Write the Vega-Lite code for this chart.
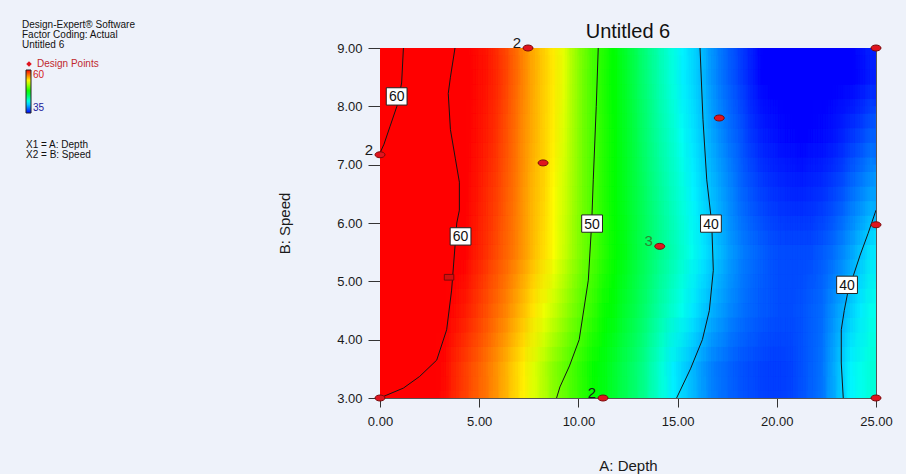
{
  "$schema": "https://vega.github.io/schema/vega-lite/v6.json",
  "width": 496,
  "height": 350,
  "autosize": "none",
  "padding": {"left": 380, "top": 48, "right": 30, "bottom": 76},
  "background": "#EEF2FA",
  "config": {
    "font": "Liberation Sans",
    "view": {"stroke": "#555555", "strokeWidth": 1}
  },
  "title": {"text": "Untitled 6", "fontSize": 20, "fontWeight": "normal", "color": "#111111", "baseline": "alphabetic", "offset": 7, "dy": 45, "anchor": "middle"},
  "datasets": {
    "grid": [
      {"d":0,"d1":0.5,"s":3,"s1":4,"r":60.9},{"d":0.5,"d1":1,"s":3,"s1":4,"r":60.75},{"d":1,"d1":1.5,"s":3,"s1":4,"r":60.6},{"d":1.5,"d1":2,"s":3,"s1":4,"r":60.4},{"d":2,"d1":2.5,"s":3,"s1":4,"r":60.25},
      {"d":2.5,"d1":3,"s":3,"s1":4,"r":60.1},{"d":3,"d1":3.5,"s":3,"s1":4,"r":59.7},{"d":3.5,"d1":4,"s":3,"s1":4,"r":59.0},{"d":4,"d1":4.5,"s":3,"s1":4,"r":58.4},{"d":4.5,"d1":5,"s":3,"s1":4,"r":57.8},
      {"d":5,"d1":5.5,"s":3,"s1":4,"r":57.2},{"d":5.5,"d1":6,"s":3,"s1":4,"r":56.5},{"d":6,"d1":6.5,"s":3,"s1":4,"r":55.7},{"d":6.5,"d1":7,"s":3,"s1":4,"r":54.8},{"d":7,"d1":7.5,"s":3,"s1":4,"r":54.0},
      {"d":7.5,"d1":8,"s":3,"s1":4,"r":53.0},{"d":8,"d1":8.5,"s":3,"s1":4,"r":52.0},{"d":8.5,"d1":9,"s":3,"s1":4,"r":50.9},{"d":9,"d1":9.5,"s":3,"s1":4,"r":50.1},{"d":9.5,"d1":10,"s":3,"s1":4,"r":49.3},
      {"d":10,"d1":10.5,"s":3,"s1":4,"r":48.5},{"d":10.5,"d1":11,"s":3,"s1":4,"r":47.7},{"d":11,"d1":11.5,"s":3,"s1":4,"r":47.0},{"d":11.5,"d1":12,"s":3,"s1":4,"r":46.3},{"d":12,"d1":12.5,"s":3,"s1":4,"r":45.6},
      {"d":12.5,"d1":13,"s":3,"s1":4,"r":44.9},{"d":13,"d1":13.5,"s":3,"s1":4,"r":44.1},{"d":13.5,"d1":14,"s":3,"s1":4,"r":43.0},{"d":14,"d1":14.5,"s":3,"s1":4,"r":42.0},{"d":14.5,"d1":15,"s":3,"s1":4,"r":41.0},
      {"d":15,"d1":15.5,"s":3,"s1":4,"r":40.3},{"d":15.5,"d1":16,"s":3,"s1":4,"r":39.6},{"d":16,"d1":16.5,"s":3,"s1":4,"r":38.9},{"d":16.5,"d1":17,"s":3,"s1":4,"r":38.2},{"d":17,"d1":17.5,"s":3,"s1":4,"r":37.8},
      {"d":17.5,"d1":18,"s":3,"s1":4,"r":37.4},{"d":18,"d1":18.5,"s":3,"s1":4,"r":37.1},{"d":18.5,"d1":19,"s":3,"s1":4,"r":36.9},{"d":19,"d1":19.5,"s":3,"s1":4,"r":36.7},{"d":19.5,"d1":20,"s":3,"s1":4,"r":36.6},
      {"d":20,"d1":20.5,"s":3,"s1":4,"r":36.6},{"d":20.5,"d1":21,"s":3,"s1":4,"r":36.75},{"d":21,"d1":21.5,"s":3,"s1":4,"r":37.05},{"d":21.5,"d1":22,"s":3,"s1":4,"r":37.5},{"d":22,"d1":22.5,"s":3,"s1":4,"r":37.9},
      {"d":22.5,"d1":23,"s":3,"s1":4,"r":39.0},{"d":23,"d1":23.5,"s":3,"s1":4,"r":40.1},{"d":23.5,"d1":24,"s":3,"s1":4,"r":41.1},{"d":24,"d1":24.5,"s":3,"s1":4,"r":41.6},{"d":24.5,"d1":25,"s":3,"s1":4,"r":42.1},

      {"d":0,"d1":0.5,"s":4,"s1":5,"r":60.9},{"d":0.5,"d1":1,"s":4,"s1":5,"r":60.8},{"d":1,"d1":1.5,"s":4,"s1":5,"r":60.7},{"d":1.5,"d1":2,"s":4,"s1":5,"r":60.5},{"d":2,"d1":2.5,"s":4,"s1":5,"r":60.4},
      {"d":2.5,"d1":3,"s":4,"s1":5,"r":60.25},{"d":3,"d1":3.5,"s":4,"s1":5,"r":60.0},{"d":3.5,"d1":4,"s":4,"s1":5,"r":59.65},{"d":4,"d1":4.5,"s":4,"s1":5,"r":59.3},{"d":4.5,"d1":5,"s":4,"s1":5,"r":58.7},
      {"d":5,"d1":5.5,"s":4,"s1":5,"r":58.1},{"d":5.5,"d1":6,"s":4,"s1":5,"r":57.45},{"d":6,"d1":6.5,"s":4,"s1":5,"r":56.8},{"d":6.5,"d1":7,"s":4,"s1":5,"r":56.0},{"d":7,"d1":7.5,"s":4,"s1":5,"r":55.2},
      {"d":7.5,"d1":8,"s":4,"s1":5,"r":54.3},{"d":8,"d1":8.5,"s":4,"s1":5,"r":53.5},{"d":8.5,"d1":9,"s":4,"s1":5,"r":52.5},{"d":9,"d1":9.5,"s":4,"s1":5,"r":51.5},{"d":9.5,"d1":10,"s":4,"s1":5,"r":50.5},
      {"d":10,"d1":10.5,"s":4,"s1":5,"r":49.6},{"d":10.5,"d1":11,"s":4,"s1":5,"r":48.8},{"d":11,"d1":11.5,"s":4,"s1":5,"r":47.9},{"d":11.5,"d1":12,"s":4,"s1":5,"r":47.2},{"d":12,"d1":12.5,"s":4,"s1":5,"r":46.4},
      {"d":12.5,"d1":13,"s":4,"s1":5,"r":45.7},{"d":13,"d1":13.5,"s":4,"s1":5,"r":44.9},{"d":13.5,"d1":14,"s":4,"s1":5,"r":44.0},{"d":14,"d1":14.5,"s":4,"s1":5,"r":43.1},{"d":14.5,"d1":15,"s":4,"s1":5,"r":42.3},
      {"d":15,"d1":15.5,"s":4,"s1":5,"r":41.5},{"d":15.5,"d1":16,"s":4,"s1":5,"r":40.8},{"d":16,"d1":16.5,"s":4,"s1":5,"r":40.1},{"d":16.5,"d1":17,"s":4,"s1":5,"r":39.4},{"d":17,"d1":17.5,"s":4,"s1":5,"r":38.9},
      {"d":17.5,"d1":18,"s":4,"s1":5,"r":38.3},{"d":18,"d1":18.5,"s":4,"s1":5,"r":37.9},{"d":18.5,"d1":19,"s":4,"s1":5,"r":37.55},{"d":19,"d1":19.5,"s":4,"s1":5,"r":37.3},{"d":19.5,"d1":20,"s":4,"s1":5,"r":37.1},
      {"d":20,"d1":20.5,"s":4,"s1":5,"r":37.0},{"d":20.5,"d1":21,"s":4,"s1":5,"r":37.0},{"d":21,"d1":21.5,"s":4,"s1":5,"r":37.1},{"d":21.5,"d1":22,"s":4,"s1":5,"r":37.4},{"d":22,"d1":22.5,"s":4,"s1":5,"r":37.7},
      {"d":22.5,"d1":23,"s":4,"s1":5,"r":38.5},{"d":23,"d1":23.5,"s":4,"s1":5,"r":39.3},{"d":23.5,"d1":24,"s":4,"s1":5,"r":40.2},{"d":24,"d1":24.5,"s":4,"s1":5,"r":40.9},{"d":24.5,"d1":25,"s":4,"s1":5,"r":41.6},

      {"d":0,"d1":0.5,"s":5,"s1":6,"r":60.8},{"d":0.5,"d1":1,"s":5,"s1":6,"r":60.7},{"d":1,"d1":1.5,"s":5,"s1":6,"r":60.6},{"d":1.5,"d1":2,"s":5,"s1":6,"r":60.6},{"d":2,"d1":2.5,"s":5,"s1":6,"r":60.5},
      {"d":2.5,"d1":3,"s":5,"s1":6,"r":60.3},{"d":3,"d1":3.5,"s":5,"s1":6,"r":60.2},{"d":3.5,"d1":4,"s":5,"s1":6,"r":60.1},{"d":4,"d1":4.5,"s":5,"s1":6,"r":59.9},{"d":4.5,"d1":5,"s":5,"s1":6,"r":59.35},
      {"d":5,"d1":5.5,"s":5,"s1":6,"r":58.8},{"d":5.5,"d1":6,"s":5,"s1":6,"r":58.2},{"d":6,"d1":6.5,"s":5,"s1":6,"r":57.6},{"d":6.5,"d1":7,"s":5,"s1":6,"r":56.9},{"d":7,"d1":7.5,"s":5,"s1":6,"r":56.1},
      {"d":7.5,"d1":8,"s":5,"s1":6,"r":55.25},{"d":8,"d1":8.5,"s":5,"s1":6,"r":54.5},{"d":8.5,"d1":9,"s":5,"s1":6,"r":53.7},{"d":9,"d1":9.5,"s":5,"s1":6,"r":52.6},{"d":9.5,"d1":10,"s":5,"s1":6,"r":51.4},
      {"d":10,"d1":10.5,"s":5,"s1":6,"r":50.3},{"d":10.5,"d1":11,"s":5,"s1":6,"r":49.5},{"d":11,"d1":11.5,"s":5,"s1":6,"r":48.6},{"d":11.5,"d1":12,"s":5,"s1":6,"r":47.8},{"d":12,"d1":12.5,"s":5,"s1":6,"r":47.0},
      {"d":12.5,"d1":13,"s":5,"s1":6,"r":46.15},{"d":13,"d1":13.5,"s":5,"s1":6,"r":45.4},{"d":13.5,"d1":14,"s":5,"s1":6,"r":44.6},{"d":14,"d1":14.5,"s":5,"s1":6,"r":43.8},{"d":14.5,"d1":15,"s":5,"s1":6,"r":43.1},
      {"d":15,"d1":15.5,"s":5,"s1":6,"r":42.3},{"d":15.5,"d1":16,"s":5,"s1":6,"r":41.5},{"d":16,"d1":16.5,"s":5,"s1":6,"r":40.8},{"d":16.5,"d1":17,"s":5,"s1":6,"r":40.1},{"d":17,"d1":17.5,"s":5,"s1":6,"r":39.5},
      {"d":17.5,"d1":18,"s":5,"s1":6,"r":38.8},{"d":18,"d1":18.5,"s":5,"s1":6,"r":38.2},{"d":18.5,"d1":19,"s":5,"s1":6,"r":37.8},{"d":19,"d1":19.5,"s":5,"s1":6,"r":37.4},{"d":19.5,"d1":20,"s":5,"s1":6,"r":37.1},
      {"d":20,"d1":20.5,"s":5,"s1":6,"r":37.0},{"d":20.5,"d1":21,"s":5,"s1":6,"r":36.9},{"d":21,"d1":21.5,"s":5,"s1":6,"r":36.9},{"d":21.5,"d1":22,"s":5,"s1":6,"r":37.0},{"d":22,"d1":22.5,"s":5,"s1":6,"r":37.3},
      {"d":22.5,"d1":23,"s":5,"s1":6,"r":37.7},{"d":23,"d1":23.5,"s":5,"s1":6,"r":38.3},{"d":23.5,"d1":24,"s":5,"s1":6,"r":39.1},{"d":24,"d1":24.5,"s":5,"s1":6,"r":39.9},{"d":24.5,"d1":25,"s":5,"s1":6,"r":40.7},

      {"d":0,"d1":0.5,"s":6,"s1":7,"r":60.5},{"d":0.5,"d1":1,"s":6,"s1":7,"r":60.5},{"d":1,"d1":1.5,"s":6,"s1":7,"r":60.5},{"d":1.5,"d1":2,"s":6,"s1":7,"r":60.4},{"d":2,"d1":2.5,"s":6,"s1":7,"r":60.4},
      {"d":2.5,"d1":3,"s":6,"s1":7,"r":60.3},{"d":3,"d1":3.5,"s":6,"s1":7,"r":60.2},{"d":3.5,"d1":4,"s":6,"s1":7,"r":60.1},{"d":4,"d1":4.5,"s":6,"s1":7,"r":59.9},{"d":4.5,"d1":5,"s":6,"s1":7,"r":59.5},
      {"d":5,"d1":5.5,"s":6,"s1":7,"r":59.0},{"d":5.5,"d1":6,"s":6,"s1":7,"r":58.5},{"d":6,"d1":6.5,"s":6,"s1":7,"r":57.8},{"d":6.5,"d1":7,"s":6,"s1":7,"r":57.1},{"d":7,"d1":7.5,"s":6,"s1":7,"r":56.2},
      {"d":7.5,"d1":8,"s":6,"s1":7,"r":55.4},{"d":8,"d1":8.5,"s":6,"s1":7,"r":54.7},{"d":8.5,"d1":9,"s":6,"s1":7,"r":53.8},{"d":9,"d1":9.5,"s":6,"s1":7,"r":52.8},{"d":9.5,"d1":10,"s":6,"s1":7,"r":51.5},
      {"d":10,"d1":10.5,"s":6,"s1":7,"r":50.3},{"d":10.5,"d1":11,"s":6,"s1":7,"r":49.4},{"d":11,"d1":11.5,"s":6,"s1":7,"r":48.5},{"d":11.5,"d1":12,"s":6,"s1":7,"r":47.7},{"d":12,"d1":12.5,"s":6,"s1":7,"r":46.8},
      {"d":12.5,"d1":13,"s":6,"s1":7,"r":46.0},{"d":13,"d1":13.5,"s":6,"s1":7,"r":45.2},{"d":13.5,"d1":14,"s":6,"s1":7,"r":44.3},{"d":14,"d1":14.5,"s":6,"s1":7,"r":43.5},{"d":14.5,"d1":15,"s":6,"s1":7,"r":42.7},
      {"d":15,"d1":15.5,"s":6,"s1":7,"r":41.9},{"d":15.5,"d1":16,"s":6,"s1":7,"r":41.1},{"d":16,"d1":16.5,"s":6,"s1":7,"r":40.4},{"d":16.5,"d1":17,"s":6,"s1":7,"r":39.7},{"d":17,"d1":17.5,"s":6,"s1":7,"r":39.0},
      {"d":17.5,"d1":18,"s":6,"s1":7,"r":38.3},{"d":18,"d1":18.5,"s":6,"s1":7,"r":37.6},{"d":18.5,"d1":19,"s":6,"s1":7,"r":37.1},{"d":19,"d1":19.5,"s":6,"s1":7,"r":36.7},{"d":19.5,"d1":20,"s":6,"s1":7,"r":36.4},
      {"d":20,"d1":20.5,"s":6,"s1":7,"r":36.2},{"d":20.5,"d1":21,"s":6,"s1":7,"r":36.05},{"d":21,"d1":21.5,"s":6,"s1":7,"r":36.0},{"d":21.5,"d1":22,"s":6,"s1":7,"r":36.1},{"d":22,"d1":22.5,"s":6,"s1":7,"r":36.3},
      {"d":22.5,"d1":23,"s":6,"s1":7,"r":36.7},{"d":23,"d1":23.5,"s":6,"s1":7,"r":37.1},{"d":23.5,"d1":24,"s":6,"s1":7,"r":37.8},{"d":24,"d1":24.5,"s":6,"s1":7,"r":38.4},{"d":24.5,"d1":25,"s":6,"s1":7,"r":39.0},

      {"d":0,"d1":0.5,"s":7,"s1":8,"r":60.2},{"d":0.5,"d1":1,"s":7,"s1":8,"r":60.2},{"d":1,"d1":1.5,"s":7,"s1":8,"r":60.3},{"d":1.5,"d1":2,"s":7,"s1":8,"r":60.3},{"d":2,"d1":2.5,"s":7,"s1":8,"r":60.4},
      {"d":2.5,"d1":3,"s":7,"s1":8,"r":60.2},{"d":3,"d1":3.5,"s":7,"s1":8,"r":60.1},{"d":3.5,"d1":4,"s":7,"s1":8,"r":60.1},{"d":4,"d1":4.5,"s":7,"s1":8,"r":60.0},{"d":4.5,"d1":5,"s":7,"s1":8,"r":59.7},
      {"d":5,"d1":5.5,"s":7,"s1":8,"r":59.3},{"d":5.5,"d1":6,"s":7,"s1":8,"r":58.8},{"d":6,"d1":6.5,"s":7,"s1":8,"r":58.1},{"d":6.5,"d1":7,"s":7,"s1":8,"r":57.3},{"d":7,"d1":7.5,"s":7,"s1":8,"r":56.4},
      {"d":7.5,"d1":8,"s":7,"s1":8,"r":55.6},{"d":8,"d1":8.5,"s":7,"s1":8,"r":54.8},{"d":8.5,"d1":9,"s":7,"s1":8,"r":54.0},{"d":9,"d1":9.5,"s":7,"s1":8,"r":53.0},{"d":9.5,"d1":10,"s":7,"s1":8,"r":51.6},
      {"d":10,"d1":10.5,"s":7,"s1":8,"r":50.3},{"d":10.5,"d1":11,"s":7,"s1":8,"r":49.4},{"d":11,"d1":11.5,"s":7,"s1":8,"r":48.5},{"d":11.5,"d1":12,"s":7,"s1":8,"r":47.7},{"d":12,"d1":12.5,"s":7,"s1":8,"r":46.7},
      {"d":12.5,"d1":13,"s":7,"s1":8,"r":45.85},{"d":13,"d1":13.5,"s":7,"s1":8,"r":44.9},{"d":13.5,"d1":14,"s":7,"s1":8,"r":44.0},{"d":14,"d1":14.5,"s":7,"s1":8,"r":43.1},{"d":14.5,"d1":15,"s":7,"s1":8,"r":42.3},
      {"d":15,"d1":15.5,"s":7,"s1":8,"r":41.4},{"d":15.5,"d1":16,"s":7,"s1":8,"r":40.7},{"d":16,"d1":16.5,"s":7,"s1":8,"r":40.0},{"d":16.5,"d1":17,"s":7,"s1":8,"r":39.2},{"d":17,"d1":17.5,"s":7,"s1":8,"r":38.4},
      {"d":17.5,"d1":18,"s":7,"s1":8,"r":37.7},{"d":18,"d1":18.5,"s":7,"s1":8,"r":37.1},{"d":18.5,"d1":19,"s":7,"s1":8,"r":36.4},{"d":19,"d1":19.5,"s":7,"s1":8,"r":35.9},{"d":19.5,"d1":20,"s":7,"s1":8,"r":35.6},
      {"d":20,"d1":20.5,"s":7,"s1":8,"r":35.3},{"d":20.5,"d1":21,"s":7,"s1":8,"r":35.2},{"d":21,"d1":21.5,"s":7,"s1":8,"r":35.1},{"d":21.5,"d1":22,"s":7,"s1":8,"r":35.2},{"d":22,"d1":22.5,"s":7,"s1":8,"r":35.3},
      {"d":22.5,"d1":23,"s":7,"s1":8,"r":35.55},{"d":23,"d1":23.5,"s":7,"s1":8,"r":35.9},{"d":23.5,"d1":24,"s":7,"s1":8,"r":36.4},{"d":24,"d1":24.5,"s":7,"s1":8,"r":36.85},{"d":24.5,"d1":25,"s":7,"s1":8,"r":37.4},

      {"d":0,"d1":0.5,"s":8,"s1":9,"r":59.9},{"d":0.5,"d1":1,"s":8,"s1":9,"r":60.0},{"d":1,"d1":1.5,"s":8,"s1":9,"r":60.1},{"d":1.5,"d1":2,"s":8,"s1":9,"r":60.2},{"d":2,"d1":2.5,"s":8,"s1":9,"r":60.3},
      {"d":2.5,"d1":3,"s":8,"s1":9,"r":60.2},{"d":3,"d1":3.5,"s":8,"s1":9,"r":60.1},{"d":3.5,"d1":4,"s":8,"s1":9,"r":60.1},{"d":4,"d1":4.5,"s":8,"s1":9,"r":60.0},{"d":4.5,"d1":5,"s":8,"s1":9,"r":59.8},
      {"d":5,"d1":5.5,"s":8,"s1":9,"r":59.5},{"d":5.5,"d1":6,"s":8,"s1":9,"r":59.05},{"d":6,"d1":6.5,"s":8,"s1":9,"r":58.35},{"d":6.5,"d1":7,"s":8,"s1":9,"r":57.5},{"d":7,"d1":7.5,"s":8,"s1":9,"r":56.6},
      {"d":7.5,"d1":8,"s":8,"s1":9,"r":55.7},{"d":8,"d1":8.5,"s":8,"s1":9,"r":54.9},{"d":8.5,"d1":9,"s":8,"s1":9,"r":54.2},{"d":9,"d1":9.5,"s":8,"s1":9,"r":53.2},{"d":9.5,"d1":10,"s":8,"s1":9,"r":51.7},
      {"d":10,"d1":10.5,"s":8,"s1":9,"r":50.3},{"d":10.5,"d1":11,"s":8,"s1":9,"r":49.3},{"d":11,"d1":11.5,"s":8,"s1":9,"r":48.4},{"d":11.5,"d1":12,"s":8,"s1":9,"r":47.6},{"d":12,"d1":12.5,"s":8,"s1":9,"r":46.6},
      {"d":12.5,"d1":13,"s":8,"s1":9,"r":45.7},{"d":13,"d1":13.5,"s":8,"s1":9,"r":44.7},{"d":13.5,"d1":14,"s":8,"s1":9,"r":43.75},{"d":14,"d1":14.5,"s":8,"s1":9,"r":42.8},{"d":14.5,"d1":15,"s":8,"s1":9,"r":41.9},
      {"d":15,"d1":15.5,"s":8,"s1":9,"r":41.05},{"d":15.5,"d1":16,"s":8,"s1":9,"r":40.4},{"d":16,"d1":16.5,"s":8,"s1":9,"r":39.6},{"d":16.5,"d1":17,"s":8,"s1":9,"r":38.7},{"d":17,"d1":17.5,"s":8,"s1":9,"r":37.9},
      {"d":17.5,"d1":18,"s":8,"s1":9,"r":37.2},{"d":18,"d1":18.5,"s":8,"s1":9,"r":36.5},{"d":18.5,"d1":19,"s":8,"s1":9,"r":35.8},{"d":19,"d1":19.5,"s":8,"s1":9,"r":35.15},{"d":19.5,"d1":20,"s":8,"s1":9,"r":34.8},
      {"d":20,"d1":20.5,"s":8,"s1":9,"r":34.5},{"d":20.5,"d1":21,"s":8,"s1":9,"r":34.4},{"d":21,"d1":21.5,"s":8,"s1":9,"r":34.3},{"d":21.5,"d1":22,"s":8,"s1":9,"r":34.3},{"d":22,"d1":22.5,"s":8,"s1":9,"r":34.4},
      {"d":22.5,"d1":23,"s":8,"s1":9,"r":34.5},{"d":23,"d1":23.5,"s":8,"s1":9,"r":34.75},{"d":23.5,"d1":24,"s":8,"s1":9,"r":35.05},{"d":24,"d1":24.5,"s":8,"s1":9,"r":35.4},{"d":24.5,"d1":25,"s":8,"s1":9,"r":35.8}
    ],
    "contours": [
      {"k":"a","o":1,"d":3.78,"s":9},{"k":"a","o":2,"d":3.55,"s":8.5},{"k":"a","o":3,"d":3.44,"s":8.22},{"k":"a","o":4,"d":3.55,"s":7.6},{"k":"a","o":5,"d":3.8,"s":7.1},{"k":"a","o":6,"d":4.0,"s":6.7},{"k":"a","o":7,"d":4.0,"s":6.22},{"k":"a","o":8,"d":3.87,"s":6.0},{"k":"a","o":9,"d":3.78,"s":5.6},{"k":"a","o":10,"d":3.61,"s":4.85},{"k":"a","o":11,"d":3.36,"s":4.17},{"k":"a","o":12,"d":2.86,"s":3.65},{"k":"a","o":13,"d":2.0,"s":3.37},{"k":"a","o":14,"d":1.18,"s":3.17},{"k":"a","o":15,"d":0.34,"s":3.05},{"k":"a","o":16,"d":0,"s":3.0},
      {"k":"b","o":1,"d":1.18,"s":9},{"k":"b","o":2,"d":1.09,"s":8.4},{"k":"b","o":3,"d":0.85,"s":8.0},{"k":"b","o":4,"d":0.5,"s":7.65},{"k":"b","o":5,"d":0.2,"s":7.35},{"k":"b","o":6,"d":0,"s":7.2},
      {"k":"c","o":1,"d":11.0,"s":9},{"k":"c","o":2,"d":10.9,"s":8.0},{"k":"c","o":3,"d":10.75,"s":6.74},{"k":"c","o":4,"d":10.67,"s":6.0},{"k":"c","o":5,"d":10.5,"s":5.02},{"k":"c","o":6,"d":10.04,"s":4.0},{"k":"c","o":7,"d":9.55,"s":3.55},{"k":"c","o":8,"d":9.07,"s":3.19},{"k":"c","o":9,"d":8.9,"s":3.0},
      {"k":"d","o":1,"d":16.13,"s":9},{"k":"d","o":2,"d":16.28,"s":7.77},{"k":"d","o":3,"d":16.47,"s":6.74},{"k":"d","o":4,"d":16.72,"s":6.0},{"k":"d","o":5,"d":16.8,"s":5.19},{"k":"d","o":6,"d":16.6,"s":4.5},{"k":"d","o":7,"d":16.25,"s":4.0},{"k":"d","o":8,"d":15.65,"s":3.5},{"k":"d","o":9,"d":14.95,"s":3.0},
      {"k":"e","o":1,"d":25,"s":6.22},{"k":"e","o":2,"d":24.6,"s":5.82},{"k":"e","o":3,"d":24.2,"s":5.45},{"k":"e","o":4,"d":23.86,"s":5.1},{"k":"e","o":5,"d":23.6,"s":4.85},{"k":"e","o":6,"d":23.4,"s":4.5},{"k":"e","o":7,"d":23.25,"s":4.17},{"k":"e","o":8,"d":23.25,"s":3.6},{"k":"e","o":9,"d":23.35,"s":3.0}
    ],
    "clabels": [
      {"d":0.84,"s":8.17,"lv":60},{"d":4.06,"s":5.77,"lv":60},{"d":10.69,"s":5.99,"lv":50},{"d":16.68,"s":5.99,"lv":40},{"d":23.54,"s":4.94,"lv":40}
    ],
    "points": [
      {"d":0,"s":3,"n":1},{"d":0,"s":7.17,"n":2},{"d":7.46,"s":9,"n":2},{"d":8.22,"s":7.03,"n":1},{"d":14.1,"s":5.6,"n":3},{"d":17.1,"s":7.8,"n":1},{"d":25,"s":9,"n":1},{"d":25,"s":5.97,"n":1},{"d":25,"s":3,"n":1},{"d":11.24,"s":3,"n":2}
    ],
    "hidden": [
      {"d":3.48,"s":5.07,"n":1}
    ]
  },
  "encoding": {
    "x": {"field": "d", "type": "quantitative", "scale": {"domain": [0, 25], "nice": false, "zero": false},
      "axis": {"title": "A: Depth", "values": [0, 5, 10, 15, 20, 25], "format": ".2f", "grid": false, "labelFlush": false, "tickSize": 9, "tickColor": "#333333", "domainColor": "#555555", "labelFontSize": 13, "labelColor": "#1a1a1a", "labelPadding": 8, "titleFontSize": 15, "titleFontWeight": "normal", "titleColor": "#1a1a1a", "titlePadding": 30}},
    "y": {"field": "s", "type": "quantitative", "scale": {"domain": [3, 9], "nice": false, "zero": false},
      "axis": {"title": "B: Speed", "values": [3, 4, 5, 6, 7, 8, 9], "format": ".2f", "grid": false, "labelFlush": false, "tickSize": 12, "tickColor": "#333333", "domainColor": "#555555", "labelFontSize": 13, "labelColor": "#1a1a1a", "labelPadding": 6, "titleFontSize": 15, "titleFontWeight": "normal", "titleColor": "#1a1a1a", "titlePadding": 44}}
  },
  "layer": [
    {
      "data": {"name": "grid"},
      "encoding": {
        "x2": {"field": "d1"},
        "y2": {"field": "s1"},
        "fill": {"field": "r", "type": "quantitative",
          "scale": {"domain": [35, 41.25, 47.5, 53.75, 60], "range": ["#0000ff", "#00ffff", "#00ff00", "#ffff00", "#ff0000"], "clamp": true, "interpolate": "rgb"},
          "legend": {"type": "gradient", "orient": "none", "legendX": -354, "legendY": 22, "direction": "vertical", "gradientLength": 43, "gradientThickness": 5, "gradientStrokeColor": "#222222", "gradientStrokeWidth": 1, "values": [35, 60], "labelFontSize": 10, "labelOffset": 2, "padding": 0,
            "title": ["X1 = A: Depth", "X2 = B: Speed"], "titleOrient": "bottom", "titleFontSize": 10, "titleFontWeight": "normal", "titleColor": "#111111", "titleLineHeight": 10, "titlePadding": 26, "titleAnchor": "start",
            "encode": {"labels": {"update": {"fill": {"signal": "datum.value > 50 ? '#d21a1a' : '#20209a'"}}}}}}
      },
      "layer": [
        {"mark": {"type": "rect", "clip": true, "x2Offset": 0.6, "y2Offset": -0.6}},
        {"mark": {"type": "rect", "clip": true, "opacity": 0.5, "xOffset": -3.72, "x2Offset": -3.72, "yOffset": -21.9, "y2Offset": -21.9}},
        {"mark": {"type": "rect", "clip": true, "opacity": 0.3333, "xOffset": 1.24, "x2Offset": 1.24, "yOffset": 7.3, "y2Offset": 7.3}},
        {"mark": {"type": "rect", "clip": true, "opacity": 0.25, "xOffset": -1.24, "x2Offset": -1.24, "yOffset": 21.9, "y2Offset": 21.9}},
        {"mark": {"type": "rect", "clip": true, "opacity": 0.2, "xOffset": 3.72, "x2Offset": 3.72, "yOffset": -7.3, "y2Offset": -7.3}},
        {"mark": {"type": "rect", "clip": true, "opacity": 0.1667, "xOffset": -1.24, "x2Offset": -1.24, "yOffset": -21.9, "y2Offset": -21.9}},
        {"mark": {"type": "rect", "clip": true, "opacity": 0.1429, "xOffset": 3.72, "x2Offset": 3.72, "yOffset": 7.3, "y2Offset": 7.3}},
        {"mark": {"type": "rect", "clip": true, "opacity": 0.125, "xOffset": -3.72, "x2Offset": -3.72, "yOffset": 21.9, "y2Offset": 21.9}},
        {"mark": {"type": "rect", "clip": true, "opacity": 0.1111, "xOffset": 1.24, "x2Offset": 1.24, "yOffset": -7.3, "y2Offset": -7.3}},
        {"mark": {"type": "rect", "clip": true, "opacity": 0.1, "xOffset": 1.24, "x2Offset": 1.24, "yOffset": -21.9, "y2Offset": -21.9}},
        {"mark": {"type": "rect", "clip": true, "opacity": 0.0909, "xOffset": -3.72, "x2Offset": -3.72, "yOffset": 7.3, "y2Offset": 7.3}},
        {"mark": {"type": "rect", "clip": true, "opacity": 0.0833, "xOffset": 3.72, "x2Offset": 3.72, "yOffset": 21.9, "y2Offset": 21.9}},
        {"mark": {"type": "rect", "clip": true, "opacity": 0.0769, "xOffset": -1.24, "x2Offset": -1.24, "yOffset": -7.3, "y2Offset": -7.3}},
        {"mark": {"type": "rect", "clip": true, "opacity": 0.0714, "xOffset": 3.72, "x2Offset": 3.72, "yOffset": -21.9, "y2Offset": -21.9}},
        {"mark": {"type": "rect", "clip": true, "opacity": 0.0667, "xOffset": -1.24, "x2Offset": -1.24, "yOffset": 7.3, "y2Offset": 7.3}},
        {"mark": {"type": "rect", "clip": true, "opacity": 0.0625, "xOffset": 1.24, "x2Offset": 1.24, "yOffset": 21.9, "y2Offset": 21.9}},
        {"mark": {"type": "rect", "clip": true, "opacity": 0.0588, "xOffset": -3.72, "x2Offset": -3.72, "yOffset": -7.3, "y2Offset": -7.3}}
      ]
    },
    {
      "data": {"name": "contours"},
      "mark": {"type": "line", "color": "#151515", "strokeWidth": 1, "clip": true},
      "encoding": {
        "detail": {"field": "k"},
        "order": {"field": "o", "type": "quantitative"}
      }
    },
    {
      "data": {"name": "clabels"},
      "mark": {"type": "point", "shape": "M-1.2,-1H1.2V1H-1.2Z", "size": 300, "filled": true, "fill": "#ffffff", "stroke": "#222222", "strokeWidth": 1, "opacity": 1},
      "encoding": {}
    },
    {
      "data": {"name": "clabels"},
      "mark": {"type": "text", "fontSize": 14, "color": "#111111", "align": "center", "baseline": "middle", "dy": 1},
      "encoding": {"text": {"field": "lv"}}
    },
    {
      "data": {"name": "points"},
      "mark": {"type": "point", "shape": "M-1,0A1,0.6,0,1,0,1,0A1,0.6,0,1,0,-1,0Z", "size": 100, "filled": true, "fill": "#e0141e", "stroke": "#7a0a0a", "strokeWidth": 1},
      "encoding": {
        "opacity": {"datum": "Design Points",
          "scale": {"range": [1]},
          "legend": {"orient": "none", "legendX": -358, "legendY": -28, "padding": 0, "symbolType": "diamond",
            "title": ["Design-Expert® Software", "Factor Coding: Actual", "Untitled 6"],
            "titleFontSize": 10, "titleFontWeight": "normal", "titleColor": "#111111", "titleLineHeight": 10, "titlePadding": 9,
            "labelFontSize": 10, "labelColor": "#c0282d", "labelOffset": 3, "symbolSize": 30, "symbolOffset": 2,
            "symbolFillColor": "#a51c1c", "symbolStrokeColor": "#a51c1c"}}
      }
    },
    {
      "data": {"name": "hidden"},
      "mark": {"type": "point", "shape": "M-1,-0.6H1V0.6H-1Z", "size": 90, "filled": true, "fill": "#d41010", "stroke": "#7a0a0a", "strokeWidth": 1, "opacity": 1},
      "encoding": {}
    },
    {
      "data": {"name": "points"},
      "transform": [{"filter": "datum.n > 1"}],
      "mark": {"type": "text", "fontSize": 15, "align": "right", "baseline": "middle", "dx": -7, "dy": -5},
      "encoding": {
        "text": {"field": "n"},
        "color": {"condition": {"test": "datum.n == 3", "value": "#2d8a2d"}, "value": "#1a1a1a"}
      }
    }
  ]
}
